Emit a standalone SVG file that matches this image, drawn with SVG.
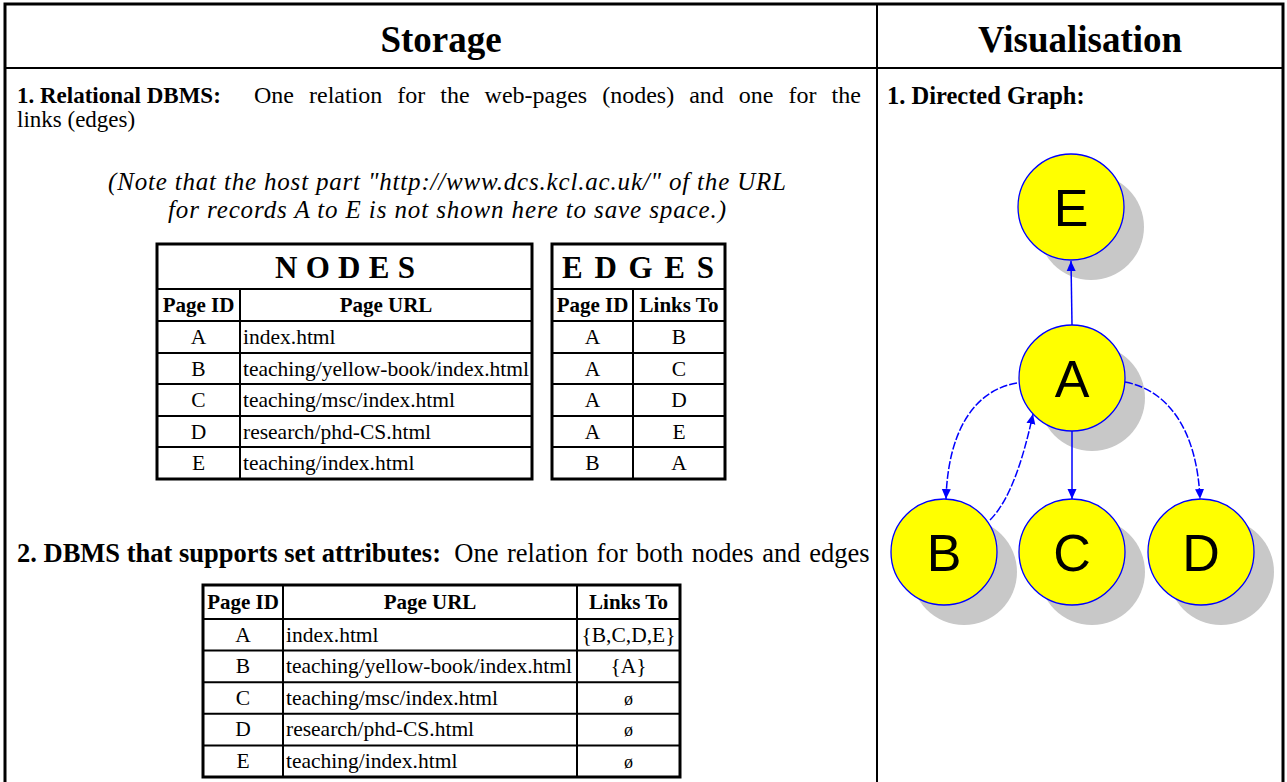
<svg xmlns="http://www.w3.org/2000/svg" width="1287" height="782" viewBox="0 0 1287 782">
<style>
.t{font-family:"Liberation Serif","Times New Roman",serif;fill:#000}
.b{font-weight:bold}
.hdr{font-size:37px;font-weight:bold;text-anchor:middle}
.body{font-size:23px}
.it{font-size:25px;font-style:italic;text-anchor:middle}
.ttl{font-size:31px;font-weight:bold;text-anchor:middle}
.th{font-size:21px;font-weight:bold;text-anchor:middle}
.td{font-size:21.5px}
.c{text-anchor:middle}
.outer{fill:none;stroke:#000;stroke-width:3}
.grid{stroke:#000;stroke-width:2;fill:none}
.tbl{fill:#fff;stroke:#000;stroke-width:3}
.cell{stroke:#000;stroke-width:2}
.shadow{fill:#c8c8c8}
.node{fill:#ffff00;stroke:#0000ff;stroke-width:1.3}
.lbl{font-family:"Liberation Sans",Arial,sans-serif;font-size:52px;text-anchor:middle;fill:#000}
.edge{fill:none;stroke:#0000ff;stroke-width:1.5}
.curve{stroke-dasharray:8 2}
</style>
<defs>
<marker id="arr" markerUnits="userSpaceOnUse" markerWidth="10" markerHeight="10" viewBox="0 0 10 10" refX="10" refY="5" orient="auto">
<path d="M0,0.5 L10,5 L0,9.5 Z" fill="#0000ff"/>
</marker>
</defs>
<rect width="1287" height="782" fill="#fff"/>
<g id="frame">
<rect class="outer" x="5" y="4" width="1278" height="800"/>
<line class="grid" x1="5" y1="68" x2="1283" y2="68"/>
<line class="grid" x1="877" y1="4" x2="877" y2="790"/>
<text class="t hdr" x="441" y="52">Storage</text>
<text class="t hdr" x="1080" y="52">Visualisation</text>
</g>
<g id="storage-text">
<text class="t body b" x="17" y="103">1. Relational DBMS:</text>
<text class="t" x="254" y="103" style="font-size:24px;word-spacing:9px">One relation for the web-pages (nodes) and one for the</text>
<text class="t body" x="17" y="127">links (edges)</text>
<text class="t it" x="447" y="190" textLength="678" lengthAdjust="spacing">(Note that the host part "http://www.dcs.kcl.ac.uk/" of the URL</text>
<text class="t it" x="447" y="218" textLength="558" lengthAdjust="spacing">for records A to E is not shown here to save space.)</text>
<text class="t" x="17" y="562" style="font-size:26.5px"><tspan class="b">2. DBMS that supports set attributes:</tspan>&#160; <tspan style="word-spacing:2px">One relation for both nodes and edges</tspan></text>
</g>
<g id="nodes-table">
<rect class="tbl" x="157" y="244" width="375" height="235"/>
<line class="cell" x1="157" y1="289" x2="532" y2="289"/>
<line class="cell" x1="157" y1="321" x2="532" y2="321"/>
<line class="cell" x1="157" y1="353" x2="532" y2="353"/>
<line class="cell" x1="157" y1="384" x2="532" y2="384"/>
<line class="cell" x1="157" y1="416" x2="532" y2="416"/>
<line class="cell" x1="157" y1="447" x2="532" y2="447"/>
<line class="cell" x1="240" y1="289" x2="240" y2="479"/>
<text class="t ttl" x="345" y="278" textLength="140" lengthAdjust="spacing">N O D E S</text>
<text class="t th" x="198.5" y="312">Page ID</text>
<text class="t th" x="386" y="312">Page URL</text>
<text class="t td c" x="198.5" y="344">A</text>
<text class="t td c" x="198.5" y="376">B</text>
<text class="t td c" x="198.5" y="407">C</text>
<text class="t td c" x="198.5" y="439">D</text>
<text class="t td c" x="198.5" y="470">E</text>
<text class="t td" x="243" y="344">index.html</text>
<text class="t td" x="243" y="376">teaching/yellow-book/index.html</text>
<text class="t td" x="243" y="407">teaching/msc/index.html</text>
<text class="t td" x="243" y="439">research/phd-CS.html</text>
<text class="t td" x="243" y="470">teaching/index.html</text>
</g>
<g id="edges-table">
<rect class="tbl" x="552" y="244" width="173" height="235"/>
<line class="cell" x1="552" y1="289" x2="725" y2="289"/>
<line class="cell" x1="552" y1="321" x2="725" y2="321"/>
<line class="cell" x1="552" y1="353" x2="725" y2="353"/>
<line class="cell" x1="552" y1="384" x2="725" y2="384"/>
<line class="cell" x1="552" y1="416" x2="725" y2="416"/>
<line class="cell" x1="552" y1="447" x2="725" y2="447"/>
<line class="cell" x1="633" y1="289" x2="633" y2="479"/>
<text class="t ttl" x="638" y="278" textLength="152" lengthAdjust="spacing">E D G E S</text>
<text class="t th" x="592.5" y="312">Page ID</text>
<text class="t th" x="679" y="312">Links To</text>
<text class="t td c" x="592.5" y="344">A</text>
<text class="t td c" x="592.5" y="376">A</text>
<text class="t td c" x="592.5" y="407">A</text>
<text class="t td c" x="592.5" y="439">A</text>
<text class="t td c" x="592.5" y="470">B</text>
<text class="t td c" x="679" y="344">B</text>
<text class="t td c" x="679" y="376">C</text>
<text class="t td c" x="679" y="407">D</text>
<text class="t td c" x="679" y="439">E</text>
<text class="t td c" x="679" y="470">A</text>
</g>
<g id="set-table">
<rect class="tbl" x="203" y="585" width="477" height="192"/>
<line class="cell" x1="203" y1="619" x2="680" y2="619"/>
<line class="cell" x1="203" y1="650.6" x2="680" y2="650.6"/>
<line class="cell" x1="203" y1="682.2" x2="680" y2="682.2"/>
<line class="cell" x1="203" y1="713.8" x2="680" y2="713.8"/>
<line class="cell" x1="203" y1="745.4" x2="680" y2="745.4"/>
<line class="cell" x1="283" y1="585" x2="283" y2="777"/>
<line class="cell" x1="577" y1="585" x2="577" y2="777"/>
<text class="t th" x="243" y="609">Page ID</text>
<text class="t th" x="430" y="609">Page URL</text>
<text class="t th" x="628.5" y="609">Links To</text>
<text class="t td c" x="243" y="642">A</text>
<text class="t td c" x="243" y="673">B</text>
<text class="t td c" x="243" y="705">C</text>
<text class="t td c" x="243" y="736">D</text>
<text class="t td c" x="243" y="768">E</text>
<text class="t td" x="286" y="642">index.html</text>
<text class="t td" x="286" y="673">teaching/yellow-book/index.html</text>
<text class="t td" x="286" y="705">teaching/msc/index.html</text>
<text class="t td" x="286" y="736">research/phd-CS.html</text>
<text class="t td" x="286" y="768">teaching/index.html</text>
<text class="t td c" x="628.5" y="642">{B,C,D,E}</text>
<text class="t td c" x="628.5" y="673">{A}</text>
<text class="t td c" x="628.5" y="705" style="font-size:18px">ø</text>
<text class="t td c" x="628.5" y="736" style="font-size:18px">ø</text>
<text class="t td c" x="628.5" y="768" style="font-size:18px">ø</text>
</g>
<text class="t b" x="887" y="104" style="font-size:24.5px">1. Directed Graph:</text>
<g id="shadows">
<circle class="shadow" cx="1091" cy="227" r="53"/>
<circle class="shadow" cx="1092" cy="398" r="53"/>
<circle class="shadow" cx="964" cy="572" r="53"/>
<circle class="shadow" cx="1092" cy="572" r="53"/>
<circle class="shadow" cx="1221" cy="572" r="53"/>
</g>
<g id="connectors">
<path class="edge" d="M1072,325 L1071,261" marker-end="url(#arr)"/>
<path class="edge" d="M1072,431 L1072,499" marker-end="url(#arr)"/>
<path class="edge curve" d="M1017,383 C975,390 948,430 946,499" marker-end="url(#arr)"/>
<path class="edge curve" d="M990,520 C1010,500 1023,460 1033,414" marker-end="url(#arr)"/>
<path class="edge curve" d="M1125,382 C1168,390 1197,430 1200,499" marker-end="url(#arr)"/>
</g>
<g id="node-E">
<circle class="node" cx="1071" cy="207" r="53"/>
<text class="lbl" x="1071" y="226">E</text>
</g>
<g id="node-A">
<circle class="node" cx="1072" cy="378" r="53"/>
<text class="lbl" x="1072" y="397">A</text>
</g>
<g id="node-B">
<circle class="node" cx="944" cy="552" r="53"/>
<text class="lbl" x="944" y="571">B</text>
</g>
<g id="node-C">
<circle class="node" cx="1072" cy="552" r="53"/>
<text class="lbl" x="1072" y="571">C</text>
</g>
<g id="node-D">
<circle class="node" cx="1201" cy="552" r="53"/>
<text class="lbl" x="1201" y="571">D</text>
</g>
</svg>
